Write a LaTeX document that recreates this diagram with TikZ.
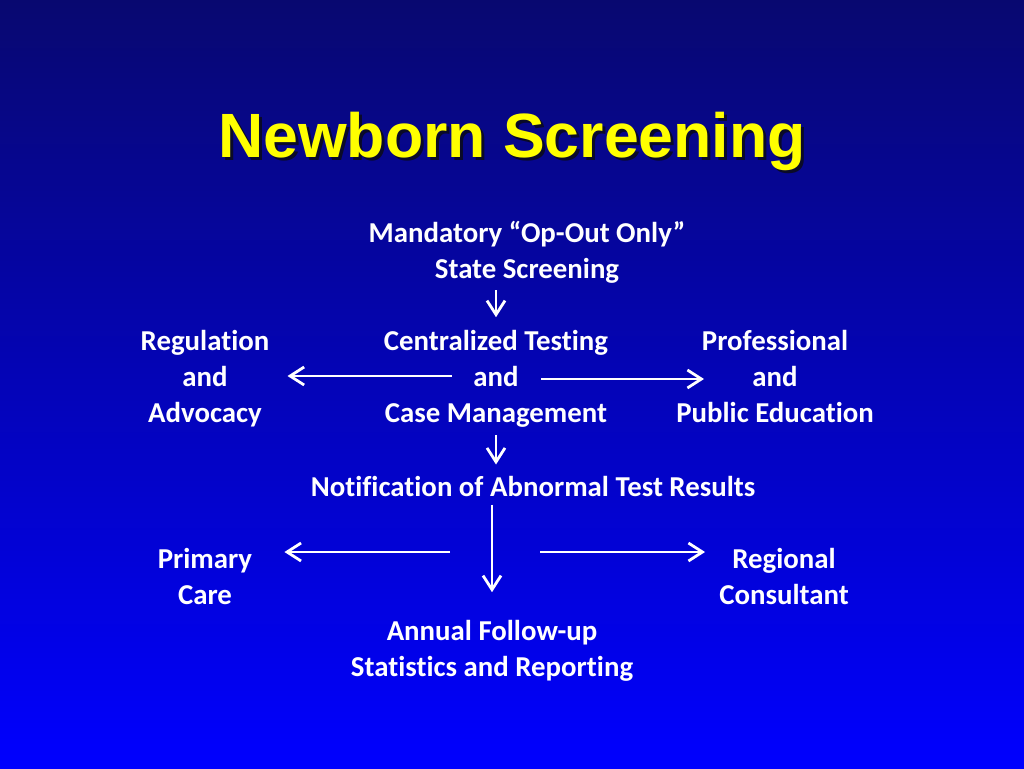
\documentclass[tikz,border=0pt]{standalone}
\usepackage{fontspec}
\setmainfont{Carlito}[Ligatures=NoCommon]
\newfontfamily\headfont{Liberation Sans}
\usepackage{tikz}
\usetikzlibrary{arrows.meta}

\definecolor{slidetop}{RGB}{8,8,112}
\definecolor{slidemid}{RGB}{0,0,220}
\definecolor{slidebot}{RGB}{0,0,255}
\definecolor{headyellow}{RGB}{255,255,0}
\definecolor{headshadow}{RGB}{10,10,40}

\begin{document}
\begin{tikzpicture}[x=0.25mm,y=-0.25mm]
		\tikzstyle{txt}=[text=white, inner sep=0pt, align=center, font=\fontsize{20.5}{25.6}\selectfont\bfseries]
		\tikzstyle{head}=[inner sep=0pt, font=\headfont\bfseries\fontsize{44.5}{50}\selectfont]
		\tikzstyle{arr}=[draw=white, line width=0.7mm, -{Straight Barb[length=3.5mm,width=4.5mm]}]

		% slide background
		\useasboundingbox (0,0) rectangle (1024,768);
		\fill[top color=slidetop, middle color=slidemid, bottom color=slidebot] (0,0) rectangle (1024,768);

		% title with shadow
		\node [head, text=headshadow] (titleshadow) at (515,144) {Newborn Screening};
		\node [head, text=headyellow] (title) at (512,141) {Newborn Screening};

		\node [txt] (mand) at (527,252) {Mandatory “Op-Out Only”\\State Screening};
		\node [txt] (ctr) at (496,379) {Centralized Testing\\and\\Case Management};
		\node [txt] (reg) at (205,379) {Regulation\\and\\Advocacy};
		\node [txt] (prof) at (775,376) {Professional\\and\\Public Education};
		\node [txt] (notif) at (533,486) {Notification of Abnormal Test Results};
		\node [txt] (prim) at (205,576) {Primary\\Care};
		\node [txt] (regc) at (784,576) {Regional\\Consultant};
		\node [txt] (annual) at (492,651) {Annual Follow-up\\Statistics and Reporting};

		\coordinate (hubL) at (450,552);
		\coordinate (hubR) at (540,552);

		\draw [arr, shorten <=1.75mm, shorten >=3.25mm] (mand.south -| ctr.north) -- (ctr.north);
		\draw [arr] ([xshift=-11mm,yshift=0.75mm]ctr.center) -- ([xshift=4.5mm,yshift=0.75mm]reg.east);
		\draw [arr] ([xshift=11.25mm]ctr.center) -- ([xshift=7mm]prof.west |- ctr.center);
		\draw [arr, shorten <=1.75mm, shorten >=2.75mm] (ctr.south) -- (ctr.south |- notif.north);
		\draw [arr, shorten <=2mm, shorten >=7mm] (notif.south -| annual.north) -- (annual.north);
		\draw [arr, shorten >=8mm] (hubL) -- (hubL -| prim.east);
		\draw [arr, shorten >=3.5mm] (hubR) -- (hubR -| regc.west);
	\end{tikzpicture}
\end{document}
